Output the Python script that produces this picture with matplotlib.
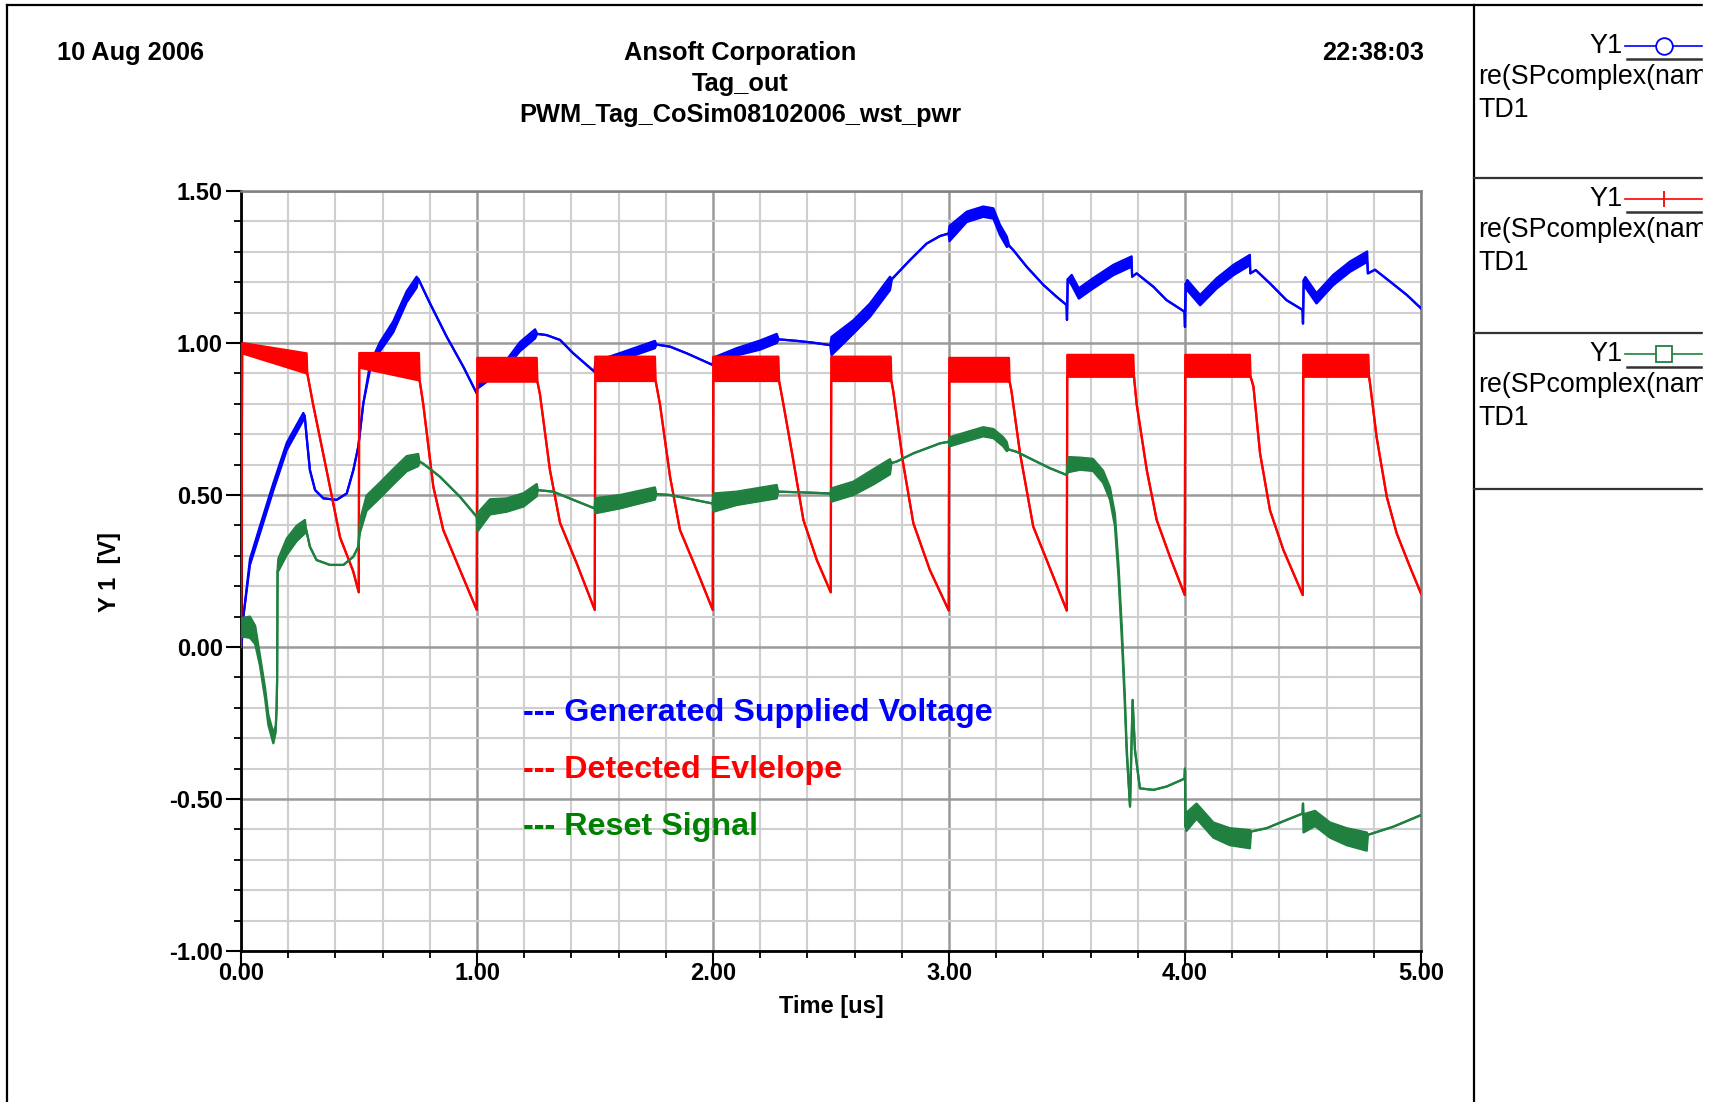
import numpy as np
import matplotlib
matplotlib.use('Agg')
import matplotlib.pyplot as plt
from matplotlib.ticker import MultipleLocator, FormatStrFormatter
from matplotlib.patches import Rectangle

plt.rcParams['font.family'] = ['Liberation Sans', 'DejaVu Sans']

# ---- data (time in us, value in V, amp = half height of the oscillation band)
red_t = [0.000, 0.003, 0.005, 0.278, 0.281, 0.305, 0.363, 0.420, 0.475, 0.499,
         0.501, 0.754, 0.757, 0.772, 0.815, 0.857, 0.928, 0.999,
         1.001, 1.253, 1.256, 1.267, 1.309, 1.352, 1.422, 1.499,
         1.501, 1.754, 1.757, 1.775, 1.818, 1.860, 1.931, 1.999,
         2.001, 2.277, 2.280, 2.298, 2.340, 2.383, 2.440, 2.499,
         2.501, 2.753, 2.756, 2.764, 2.806, 2.849, 2.919, 2.999,
         3.001, 3.254, 3.257, 3.265, 3.301, 3.357, 3.414, 3.499,
         3.501, 3.781, 3.784, 3.795, 3.838, 3.880, 3.936, 3.999,
         4.001, 4.275, 4.278, 4.290, 4.318, 4.360, 4.417, 4.499,
         4.501, 4.777, 4.780, 4.784, 4.812, 4.855, 4.897, 4.953, 5.000]
red_v = [0.00, 0.52, 0.983, 0.933, 0.90, 0.80, 0.58, 0.36, 0.25, 0.18,
         0.943, 0.922, 0.877, 0.80, 0.527, 0.385, 0.253, 0.122,
         0.912, 0.912, 0.873, 0.83, 0.582, 0.408, 0.276, 0.122,
         0.915, 0.915, 0.875, 0.80, 0.56, 0.385, 0.253, 0.122,
         0.915, 0.915, 0.875, 0.80, 0.615, 0.418, 0.286, 0.18,
         0.915, 0.915, 0.875, 0.84, 0.603, 0.407, 0.253, 0.12,
         0.912, 0.912, 0.873, 0.84, 0.637, 0.396, 0.286, 0.12,
         0.925, 0.925, 0.889, 0.80, 0.582, 0.418, 0.297, 0.171,
         0.925, 0.925, 0.889, 0.857, 0.637, 0.45, 0.319, 0.171,
         0.925, 0.925, 0.889, 0.867, 0.69, 0.494, 0.374, 0.264, 0.176]
red_amp = [0, 0, 0.017, 0.033, 0, 0, 0, 0, 0, 0,
           0.024, 0.045, 0, 0, 0, 0, 0, 0,
           0.039, 0.039, 0, 0, 0, 0, 0, 0,
           0.040, 0.040, 0, 0, 0, 0, 0, 0,
           0.040, 0.040, 0, 0, 0, 0, 0, 0,
           0.040, 0.040, 0, 0, 0, 0, 0, 0,
           0.039, 0.039, 0, 0, 0, 0, 0, 0,
           0.036, 0.036, 0, 0, 0, 0, 0, 0,
           0.036, 0.036, 0, 0, 0, 0, 0, 0,
           0.036, 0.036, 0, 0, 0, 0, 0, 0, 0]

blue_t = [0.003, 0.010, 0.038, 0.080, 0.137, 0.194, 0.264, 0.270,
          0.278, 0.292, 0.314, 0.349, 0.405, 0.448, 0.476, 0.497, 0.518,
          0.547, 0.589, 0.645, 0.702, 0.744, 0.752,
          0.801, 0.872, 0.942, 0.999,
          1.002, 1.126, 1.182, 1.246, 1.255,
          1.295, 1.352, 1.408, 1.497,
          1.502, 1.606, 1.754, 1.760,
          1.818, 1.889, 1.998,
          2.002, 2.100, 2.199, 2.270, 2.278,
          2.355, 2.425, 2.497,
          2.502, 2.595, 2.665, 2.750, 2.758,
          2.835, 2.905, 2.962, 2.998,
          3.002, 3.075, 3.145, 3.188, 3.216, 3.245, 3.255,
          3.272, 3.329, 3.400, 3.456, 3.498, 3.500, 3.503,
          3.520, 3.550, 3.610, 3.696, 3.774, 3.776,
          3.795, 3.866, 3.922, 3.998, 4.000, 4.003,
          4.010, 4.064, 4.134, 4.205, 4.275, 4.277,
          4.300, 4.360, 4.430, 4.498, 4.500, 4.503,
          4.510, 4.557, 4.628, 4.699, 4.772, 4.775,
          4.805, 4.869, 4.940, 5.000]
blue_v = [0.01, 0.10, 0.28, 0.385, 0.527, 0.66, 0.758, 0.76,
          0.692, 0.582, 0.516, 0.489, 0.484, 0.505, 0.582, 0.659, 0.80,
          0.922, 0.988, 1.053, 1.152, 1.20, 1.21,
          1.13, 1.02, 0.922, 0.834,
          0.86, 0.933, 0.988, 1.03, 1.03,
          1.026, 1.01, 0.966, 0.906,
          0.93, 0.955, 0.995, 0.995,
          0.988, 0.966, 0.928,
          0.94, 0.971, 0.993, 1.015, 1.012,
          1.007, 1.001, 0.993,
          0.99, 1.053, 1.108, 1.196, 1.21,
          1.273, 1.327, 1.352, 1.36,
          1.36, 1.415, 1.432, 1.426, 1.372, 1.333, 1.32,
          1.306, 1.251, 1.191, 1.152, 1.125, 1.076, 1.21,
          1.207, 1.163, 1.196, 1.24, 1.268, 1.218,
          1.229, 1.185, 1.141, 1.103, 1.053, 1.196,
          1.19, 1.141, 1.196, 1.24, 1.273, 1.229,
          1.24, 1.196, 1.141, 1.109, 1.064, 1.207,
          1.20, 1.147, 1.207, 1.251, 1.284, 1.229,
          1.241, 1.202, 1.158, 1.114]
blue_amp = [0, 0, 0.010, 0.012, 0.012, 0.012, 0.012, 0,
            0, 0, 0, 0, 0, 0, 0, 0, 0,
            0.010, 0.015, 0.018, 0.018, 0.018, 0,
            0, 0, 0, 0,
            0.010, 0.012, 0.015, 0.015, 0,
            0, 0, 0, 0,
            0.010, 0.012, 0.012, 0,
            0, 0, 0,
            0.012, 0.012, 0.015, 0.015, 0,
            0, 0, 0,
            0.030, 0.022, 0.022, 0.022, 0,
            0, 0, 0, 0,
            0.025, 0.017, 0.017, 0.017, 0.017, 0.017, 0,
            0, 0, 0, 0, 0, 0, 0,
            0.017, 0.017, 0.017, 0.017, 0.017, 0,
            0, 0, 0, 0, 0, 0,
            0.017, 0.017, 0.017, 0.017, 0.017, 0,
            0, 0, 0, 0, 0, 0,
            0.017, 0.017, 0.017, 0.017, 0.017, 0,
            0, 0, 0, 0]

green_t = [0.000, 0.038, 0.060, 0.080, 0.102, 0.116, 0.137, 0.147, 0.151, 0.153, 0.155,
           0.158, 0.194, 0.236, 0.271, 0.275,
           0.292, 0.320, 0.377, 0.434, 0.476, 0.497,
           0.504, 0.532, 0.589, 0.645, 0.702, 0.751, 0.756,
           0.772, 0.843, 0.928, 0.999,
           1.002, 1.055, 1.126, 1.197, 1.253, 1.258,
           1.323, 1.408, 1.498,
           1.502, 1.606, 1.754, 1.760,
           1.818, 1.889, 1.998,
           2.002, 2.100, 2.270, 2.276,
           2.400, 2.498,
           2.502, 2.595, 2.680, 2.750, 2.756,
           2.778, 2.849, 2.962, 2.998,
           3.002, 3.075, 3.145, 3.188, 3.230, 3.245, 3.252,
           3.287, 3.357, 3.428, 3.498,
           3.505, 3.555, 3.610, 3.653, 3.682, 3.703, 3.718, 3.733, 3.745, 3.753,
           3.767, 3.778, 3.788, 3.809, 3.866, 3.922, 3.998, 4.000, 4.002,
           4.006, 4.049, 4.120, 4.190, 4.275, 4.280,
           4.346, 4.430, 4.498, 4.500,
           4.502, 4.551, 4.614, 4.685, 4.770, 4.775,
           4.883, 5.000]
green_v = [0.065, 0.065, 0.04, -0.043, -0.152, -0.24, -0.30, -0.27, -0.20, -0.11, 0.25,
           0.27, 0.33, 0.374, 0.396, 0.39,
           0.33, 0.286, 0.27, 0.27, 0.297, 0.33,
           0.396, 0.473, 0.516, 0.56, 0.603, 0.615, 0.61,
           0.603, 0.56, 0.494, 0.428,
           0.41, 0.461, 0.467, 0.484, 0.516, 0.516,
           0.511, 0.484, 0.456,
           0.465, 0.478, 0.505, 0.503,
           0.50, 0.489, 0.472,
           0.475, 0.489, 0.511, 0.511,
           0.508, 0.505,
           0.50, 0.522, 0.56, 0.593, 0.605,
           0.61, 0.637, 0.67, 0.675,
           0.675, 0.692, 0.708, 0.702, 0.675, 0.659, 0.65,
           0.642, 0.615, 0.588, 0.566,
           0.60, 0.603, 0.599, 0.56, 0.505, 0.418, 0.253, 0.034, -0.174, -0.339,
           -0.525, -0.174, -0.339, -0.465, -0.47, -0.459, -0.433, -0.40, -0.59,
           -0.575, -0.54, -0.602, -0.624, -0.632, -0.607,
           -0.596, -0.569, -0.548, -0.515,
           -0.58, -0.564, -0.602, -0.624, -0.64, -0.618,
           -0.591, -0.553]
green_amp = [0.03, 0.035, 0.03, 0.017, 0.017, 0.017, 0.017, 0.01, 0, 0, 0,
             0.02, 0.027, 0.025, 0.022, 0,
             0, 0, 0, 0, 0, 0,
             0.02, 0.025, 0.025, 0.025, 0.025, 0.02, 0,
             0, 0, 0, 0,
             0.03, 0.025, 0.022, 0.022, 0.02, 0,
             0, 0, 0,
             0.025, 0.022, 0.02, 0,
             0, 0, 0,
             0.03, 0.022, 0.022, 0,
             0, 0,
             0.022, 0.022, 0.025, 0.025, 0,
             0, 0, 0, 0,
             0.015, 0.015, 0.015, 0.015, 0.015, 0.015, 0,
             0, 0, 0, 0,
             0.025, 0.02, 0.02, 0.02, 0.02, 0.02, 0.02, 0.02, 0.015, 0.01,
             0, 0, 0, 0, 0, 0, 0, 0, 0,
             0.03, 0.025, 0.025, 0.028, 0.03, 0,
             0, 0, 0, 0,
             0.03, 0.025, 0.025, 0.028, 0.03, 0,
             0, 0]

header_left = '10 Aug 2006'
header_mid = ['Ansoft Corporation', 'Tag_out', 'PWM_Tag_CoSim08102006_wst_pwr']
header_right = '22:38:03'
legend_labels = ['--- Generated Supplied Voltage', '--- Detected Evlelope', '--- Reset Signal']
legend_colors = ['#0000ff', '#ff0000', '#008000']
curve_colors = ['#0000ff', '#ff0000', '#1f8040']

W, H = 1710, 1102
fig = plt.figure(figsize=(W / 100, H / 100), dpi=100)
fig.patch.set_facecolor('white')

ax = fig.add_axes([241 / W, 1 - 951 / H, 1180 / W, 760 / H])
ax.set_xlim(0, 5)
ax.set_ylim(-1, 1.5)
ax.xaxis.set_major_locator(MultipleLocator(1))
ax.xaxis.set_minor_locator(MultipleLocator(0.2))
ax.yaxis.set_major_locator(MultipleLocator(0.5))
ax.yaxis.set_minor_locator(MultipleLocator(0.1))
ax.xaxis.set_major_formatter(FormatStrFormatter('%.2f'))
ax.yaxis.set_major_formatter(FormatStrFormatter('%.2f'))
ax.set_axisbelow(True)
ax.grid(which='minor', color='#cfcfcf', lw=1.5)
ax.grid(which='major', color='#9a9a9a', lw=1.8)
ax.tick_params(which='major', length=11, width=1.5, pad=2, labelsize=17)
ax.tick_params(axis='x', which='major', pad=-3)
ax.tick_params(which='minor', length=5, width=1.3)
for lab in ax.get_xticklabels() + ax.get_yticklabels():
    lab.set_fontweight('bold')
ax.spines['left'].set_linewidth(2)
ax.spines['bottom'].set_linewidth(2)
ax.spines['top'].set_color('#808080')
ax.spines['right'].set_color('#808080')
ax.spines['top'].set_linewidth(1.8)
ax.spines['right'].set_linewidth(1.8)

curves = [(blue_t, blue_v, blue_amp), (red_t, red_v, red_amp), (green_t, green_v, green_amp)]
for (t, v, a), c in zip(curves, curve_colors):
    t = np.array(t); v = np.array(v); a = np.array(a)
    ax.fill_between(t, v - a, v + a, color=c, lw=0, zorder=3)
    ax.plot(t, v - a, color=c, lw=1.6, zorder=3)
    ax.plot(t, v + a, color=c, lw=1.6, zorder=3)

# in-plot legend text
for i, (lab, c) in enumerate(zip(legend_labels, legend_colors)):
    fig.text(523 / W, 1 - (721 + 57 * i) / H, lab, color=c, fontsize=23.2,
             fontweight='bold', ha='left', va='baseline')

fig.text(831 / W, 1 - 1007 / H, 'Time [us]', fontsize=17, fontweight='bold', ha='center', va='center')
fig.text(109 / W, 1 - 572 / H, 'Y 1  [V]', fontsize=17, fontweight='bold', rotation=90,
         ha='center', va='center')

# header
fig.text(57 / W, 1 - 53 / H, header_left, fontsize=18.3, fontweight='bold', ha='left', va='center')
fig.text(1424 / W, 1 - 53 / H, header_right, fontsize=18.3, fontweight='bold', ha='right', va='center')
for i, s in enumerate(header_mid):
    fig.text(740 / W, 1 - (53 + 31 * i) / H, s, fontsize=18.3, fontweight='bold', ha='center', va='center')

# overlay in pixel coords for frame and side legend panel
ov = fig.add_axes([0, 0, 1, 1], facecolor='none')
ov.set_xlim(0, W)
ov.set_ylim(H, 0)
ov.axis('off')
ov.plot([7, W], [5, 5], color='black', lw=1.6)
ov.plot([7, 7], [5, H], color='black', lw=1.6)
ov.plot([1474, 1474], [5, H], color='black', lw=1.6)
for y in [178, 333, 489]:
    ov.plot([1474, W], [y, y], color='#333333', lw=1.6)

panel_y = [46, 199, 354]
markers = ['o', '|', 's']
for y0, c, m in zip(panel_y, curve_colors, markers):
    ov.text(1623, y0, 'Y1', fontsize=19.5, ha='right', va='center')
    ov.plot([1625, W], [y0, y0], color=c, lw=1.2)
    ov.plot([1664], [y0], marker=m, ms=12, mfc='white' if m != '|' else c, mec=c, mew=1.3)
    ov.plot([1627, W], [y0 + 13, y0 + 13], color='#333333', lw=1.8)
    ov.text(1478, y0 + 38, 're(SPcomplex(nam', fontsize=19.3, ha='left', va='baseline')
    ov.text(1478, y0 + 71, 'TD1', fontsize=19.3, ha='left', va='baseline')
ov.add_patch(Rectangle((1703, 0), 10, H, color='white', zorder=10))

fig.savefig('out.png', dpi=100, facecolor='white')
